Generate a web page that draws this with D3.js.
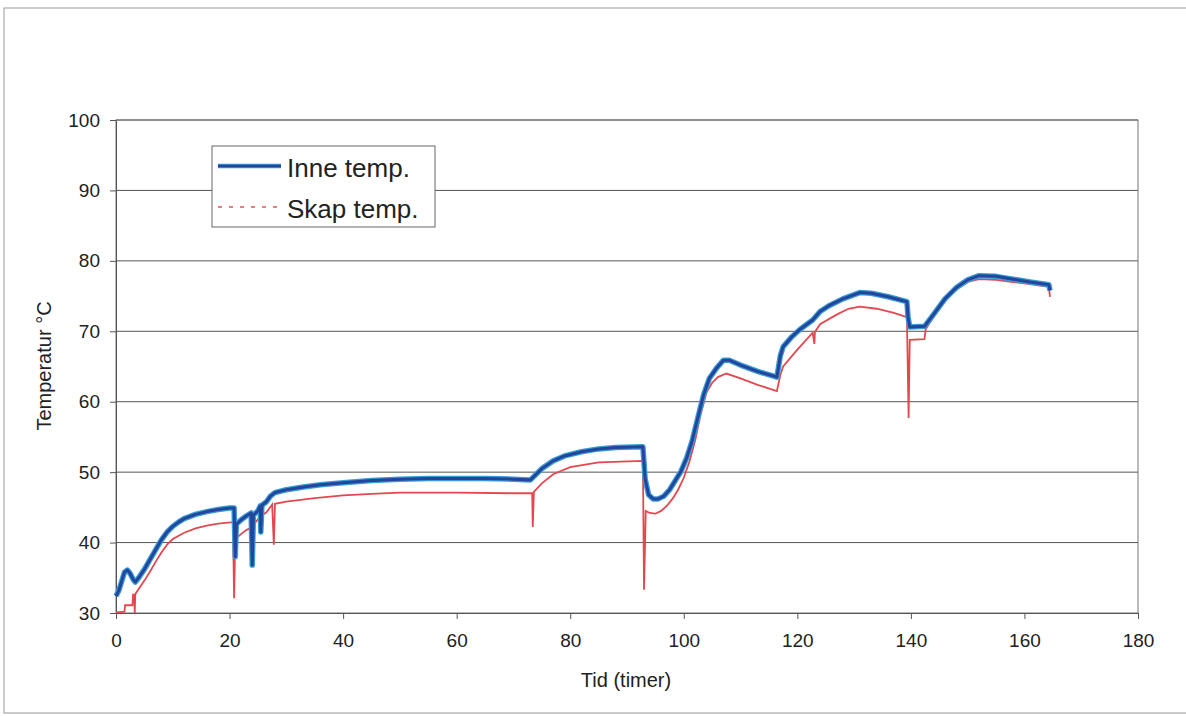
<!DOCTYPE html>
<html><head><meta charset="utf-8">
<script src="https://cdn.jsdelivr.net/npm/d3@7"></script>
<style>body{margin:0;background:#fff}svg{display:block}text{font-family:"Liberation Sans",Arial,sans-serif;fill:#222}</style>
</head><body><svg id="c" width="1186" height="716"></svg>
<script>
const xTicks=[0,20,40,60,80,100,120,140,160,180];
const yTicks=[30,40,50,60,70,80,90,100];
const seriesNames=["Inne temp.","Skap temp."];
const inneTid=[0,0.5,1,1.5,2,2.5,3,3.4,4,5,6,7,8,9,10,11,12,14,16,18,20,20.8,21,21.2,22,23,23.8,24,24.2,25,25.4,25.5,25.7,26.5,27.2,28,30,33,36,40,45,50,55,60,65,70,73,74,75,77,79,82,85,88,92.8,93.2,93.8,94.6,95.5,96.5,97.5,98.5,99.5,100.5,101.5,102.5,103.5,104.5,105.8,107,108,110,113,116.4,117,117.5,119,120.5,122.7,124,125.5,128,131,133,136,139.3,139.5,139.8,142.4,144,146,148,150,152,155,158,161,164.3,164.5];
const inneTemp=[32.4,33.2,34.5,35.8,36.1,35.6,34.8,34.4,35,36.2,37.6,39,40.4,41.5,42.3,42.9,43.4,44,44.4,44.7,44.9,44.9,38,42.6,43.2,43.8,44.2,36.8,43.9,44.5,45.2,41.5,45.3,45.8,46.6,47.1,47.5,47.9,48.2,48.5,48.8,49,49.1,49.1,49.1,49,48.9,49.7,50.5,51.6,52.3,52.9,53.3,53.5,53.6,49,46.8,46.2,46.2,46.6,47.5,48.8,50.1,52,54.5,57.8,61,63.3,64.8,65.9,65.9,65.2,64.3,63.5,66.5,67.8,69.2,70.3,71.6,72.8,73.6,74.6,75.5,75.4,74.9,74.2,72,70.6,70.7,72.4,74.6,76.2,77.3,77.9,77.8,77.4,77,76.6,75.8];
const skapTid=[0,1.5,1.6,2.9,3,3.2,3.3,3.4,5,6,7,8,9,10,12,14,16,18,20.6,20.8,21,22,23,24.1,24.3,25.3,25.4,25.6,26.5,27.5,27.8,28,30,35,40,45,50,60,70,73.3,73.4,73.6,75,77,80,85,92.8,93,93.3,94,95,96,97,98,99,100,101,102,103,104,105,106,107.5,110,113,116.4,117,117.5,120,122.7,123,123.1,124,127,129,131,134,137,139.3,139.6,139.8,142.4,142.6,144,146,148,150,152,155,158,161,164.3,164.5];
const skapTemp=[30.1,30.2,31.1,31.1,32.6,32.6,30,32.7,34.6,35.9,37.3,38.6,39.7,40.5,41.4,42,42.4,42.7,42.9,32.1,40.5,41.2,41.8,42.2,42.6,43.6,41.4,43.8,44.3,45.4,39.7,45.5,45.8,46.3,46.7,46.9,47.1,47.1,47,47,42.2,47.2,48.4,49.7,50.7,51.4,51.6,33.3,44.5,44.2,44.1,44.5,45.2,46.2,47.5,49.2,51.5,54.5,58.3,61.3,62.7,63.5,64,63.3,62.4,61.5,63.8,65,67.4,69.8,68.2,69.9,71,72.4,73.2,73.5,73.2,72.6,72,57.7,68.8,68.9,70.3,72.1,74.4,76,77,77.4,77.3,77,76.7,76.3,74.9];

const svg=d3.select("#c");
const L=116,R=1138,T=120,B=613;
const x=d3.scaleLinear().domain([0,180]).range([L,R]);
const y=d3.scaleLinear().domain([30,100]).range([B,T]);

svg.append("rect").attr("x",4).attr("y",8).attr("width",1200).attr("height",705).attr("fill","none").attr("stroke","#999").attr("stroke-width",1);

svg.append("g").selectAll("line").data(yTicks.filter(d=>d>30)).join("line")
 .attr("x1",L).attr("x2",R).attr("y1",d=>y(d)).attr("y2",d=>y(d))
 .attr("stroke","#555").attr("stroke-width",1);
svg.append("rect").attr("x",L).attr("y",T).attr("width",R-L).attr("height",B-T).attr("fill","none").attr("stroke","#777").attr("stroke-width",1);

const xAxis=svg.append("g").attr("transform",`translate(0,${B})`)
 .call(d3.axisBottom(x).tickValues(xTicks).tickSize(6).tickPadding(15).tickSizeOuter(0));
const yAxis=svg.append("g").attr("transform",`translate(${L},0)`)
 .call(d3.axisLeft(y).tickValues(yTicks).tickSize(6).tickPadding(10).tickSizeOuter(0));
[xAxis,yAxis].forEach(g=>{g.select(".domain").attr("stroke","#555");g.selectAll("line").attr("stroke","#555");g.selectAll("text").attr("font-size",19).style("font-family","Liberation Sans, Arial, sans-serif").attr("fill","#222");});

svg.append("text").attr("x",626).attr("y",687).attr("text-anchor","middle").attr("font-size",20).text("Tid (timer)");
svg.append("text").attr("transform","translate(51,366) rotate(-90)").attr("text-anchor","middle").attr("font-size",20).text("Temperatur °C");

const inne=inneTid.map((t,i)=>[t,inneTemp[i]]);
const skap=skapTid.map((t,i)=>[t,skapTemp[i]]);
const line=d3.line().x(d=>x(d[0])).y(d=>y(d[1]));

svg.append("path").datum(skap).attr("d",line).attr("fill","none").attr("stroke","#e4474f").attr("stroke-width",1.8);
svg.append("path").datum(inne).attr("d",line).attr("fill","none").attr("stroke","#3a9ad8").attr("stroke-width",5.5).attr("stroke-linejoin","round");
svg.append("path").datum(inne).attr("d",line).attr("fill","none").attr("stroke","#22469a").attr("stroke-width",3).attr("stroke-linejoin","round");

const lg=svg.append("g");
lg.append("rect").attr("x",212).attr("y",146).attr("width",223).attr("height",81).attr("fill","#fff").attr("stroke","#666");
lg.append("line").attr("x1",218).attr("x2",281).attr("y1",166).attr("y2",166).attr("stroke","#3a9ad8").attr("stroke-width",4.5);
lg.append("line").attr("x1",218).attr("x2",281).attr("y1",166).attr("y2",166).attr("stroke","#22469a").attr("stroke-width",2.5);
lg.append("line").attr("x1",218).attr("x2",281).attr("y1",207).attr("y2",207).attr("stroke","#ec7a80").attr("stroke-width",2).attr("stroke-dasharray","4,7");
lg.append("text").attr("x",287).attr("y",177).attr("font-size",26).text(seriesNames[0]);
lg.append("text").attr("x",287).attr("y",218).attr("font-size",26).text(seriesNames[1]);
</script></body></html>
